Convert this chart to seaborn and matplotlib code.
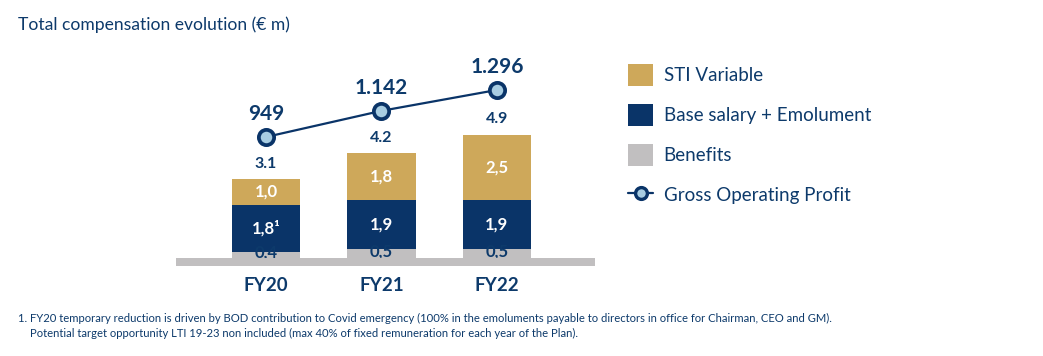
import numpy as np
import pandas as pd
import matplotlib
matplotlib.use("Agg")
import matplotlib.pyplot as plt
from matplotlib.patches import Patch
from matplotlib.lines import Line2D
import seaborn as sns

# ---- data ----
categories = ["FY20", "FY21", "FY22"]
sti_variable = [1.0, 1.8, 2.5]
base_salary = [1.8, 1.9, 1.9]
benefits = [0.4, 0.5, 0.5]
sti_labels = ["1,0", "1,8", "2,5"]
base_labels = ["1,8\u00b9", "1,9", "1,9"]
benefit_labels = ["0,4", "0,5", "0,5"]
total_labels = ["3.1", "4.2", "4.9"]
gop = [949, 1142, 1296]
gop_labels = ["949", "1.142", "1.296"]

title = "Total compensation evolution (\u20ac m)"
footnote1 = ("1. FY20 temporary reduction is driven by BOD contribution to Covid emergency (100% in the emoluments "
             "payable to directors in office for Chairman, CEO and GM).")
footnote2 = "Potential target opportunity LTI 19-23 non included (max 40% of fixed remuneration for each year of the Plan)."

GOLD = "#cea85a"
NAVY = "#0a3468"
GREY = "#c1bfc0"
TEXT = "#0d3a6b"
LIGHT = "#a8cde2"

sns.set_theme(style="white")
plt.rcParams["font.family"] = ["Lato", "DejaVu Sans"]

W, H = 1043, 356
fig = plt.figure(figsize=(W / 100, H / 100), dpi=100)
# axes spans pixel x 176..595, y 40..266 (top-origin)
ax = fig.add_axes([176 / W, 1 - 266 / H, (595 - 176) / W, (266 - 40) / H])

df = pd.DataFrame({"cat": categories,
                   "sti": sti_variable, "base": base_salary, "ben": benefits})
df["top"] = df["sti"] + df["base"] + df["ben"]
df["mid"] = df["base"] + df["ben"]

bw = 0.59
for col, c in (("top", GOLD), ("mid", NAVY), ("ben", GREY)):
    sns.barplot(data=df, x="cat", y=col, color=c, width=bw, saturation=1, ax=ax,
                zorder=2, linewidth=0, edgecolor="none")

ax.set_xlim(-0.78, 2.85)
ax.set_ylim(-0.154, 8.54)
# baseline strip
ax.axhspan(-0.154, 0.154, color=GREY, zorder=4, lw=0)

x = np.arange(len(categories))
for i in range(len(categories)):
    ben, base, sti = benefits[i], base_salary[i], sti_variable[i]
    ax.text(x[i], ben / 2 + 0.16, benefit_labels[i], ha="center", va="center",
            color=TEXT, fontsize=12, fontweight="bold", zorder=3)
    ax.text(x[i], ben + base / 2, base_labels[i], ha="center", va="center",
            color="white", fontsize=12, fontweight="bold", zorder=5)
    ax.text(x[i], ben + base + sti / 2, sti_labels[i], ha="center", va="center",
            color="white", fontsize=12, fontweight="bold", zorder=5)
    ax.annotate(total_labels[i], (x[i], ben + base + sti), xytext=(0, 11),
                textcoords="offset points", ha="center", va="center",
                color=TEXT, fontsize=11.5, fontweight="bold")

ax.set_xlabel("")
ax.set_ylabel("")
ax.set_yticks([])
ax.tick_params(axis="x", length=0, pad=8, labelsize=13.5, labelcolor=TEXT)
for lbl in ax.get_xticklabels():
    lbl.set_fontweight("bold")
for s in ax.spines.values():
    s.set_visible(False)
ax.patch.set_alpha(0)

# secondary axis for GOP
ax2 = ax.twinx()
sns.lineplot(x=x, y=gop, ax=ax2, color=NAVY, lw=1.6, marker="o", markersize=11,
             markerfacecolor=LIGHT, markeredgecolor=NAVY, markeredgewidth=2.7, zorder=6)
ax2.set_ylim(-3.7, 1665)
ax2.set_yticks([])
ax2.set_ylabel("")
for s in ax2.spines.values():
    s.set_visible(False)
for i in range(len(categories)):
    ax2.annotate(gop_labels[i], (x[i], gop[i]), xytext=(0, 16.5),
                 textcoords="offset points", ha="center", va="center",
                 color=TEXT, fontsize=15, fontweight="bold")

# legend
handles = [Patch(facecolor=GOLD, edgecolor="none", label="STI Variable"),
           Patch(facecolor=NAVY, edgecolor="none", label="Base salary + Emolument"),
           Patch(facecolor=GREY, edgecolor="none", label="Benefits"),
           Line2D([0], [0], color=NAVY, lw=1.6, marker="o", markersize=8.5,
                  markerfacecolor=LIGHT, markeredgecolor=NAVY, markeredgewidth=2.4,
                  label="Gross Operating Profit")]
leg = fig.legend(handles=handles, loc="upper left", bbox_to_anchor=(628 / W, 1 - 64 / H),
                 frameon=False, fontsize=13.5, labelcolor=TEXT, handlelength=1.35,
                 handleheight=1.4, labelspacing=0.98, handletextpad=0.55, borderpad=0,
                 borderaxespad=0)

fig.text(18 / W, 1 - 25 / H, title, ha="left", va="center", color=TEXT, fontsize=12.6)
fig.text(18 / W, 1 - 318 / H, footnote1, ha="left", va="center", color=TEXT, fontsize=8.15)
fig.text(30 / W, 1 - 333 / H, footnote2, ha="left", va="center", color=TEXT, fontsize=8.15)

fig.savefig("out.png", dpi=100, facecolor="white")
